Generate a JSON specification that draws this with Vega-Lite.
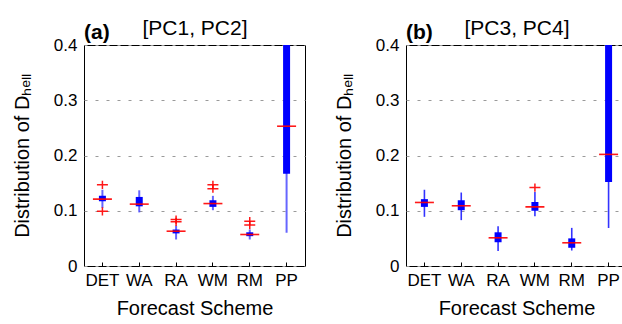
{
  "$schema": "https://vega.github.io/schema/vega-lite/v6.json",
  "background": "white",
  "padding": {"left": 11, "top": 16, "right": 0, "bottom": 0},
  "spacing": 27,
  "config": {
    "font": "Liberation Sans",
    "view": {"stroke": "black", "strokeWidth": 1},
    "axis": {
      "labelFont": "Liberation Sans",
      "labelFontSize": 17,
      "labelColor": "black",
      "titleFont": "Liberation Sans",
      "titleFontSize": 20,
      "titleFontWeight": "normal",
      "titleColor": "black"
    },
    "title": {"font": "Liberation Sans", "color": "black"}
  },
  "datasets": {
    "boxA": [
      {"scheme": "DET", "lo": 0.105, "q1": 0.117, "med": 0.121, "q3": 0.127, "hi": 0.138},
      {"scheme": "WA", "lo": 0.097, "q1": 0.108, "med": 0.112, "q3": 0.125, "hi": 0.137},
      {"scheme": "RA", "lo": 0.048, "q1": 0.059, "med": 0.063, "q3": 0.066, "hi": 0.073},
      {"scheme": "WM", "lo": 0.101, "q1": 0.107, "med": 0.113, "q3": 0.119, "hi": 0.127},
      {"scheme": "RM", "lo": 0.048, "q1": 0.054, "med": 0.057, "q3": 0.061, "hi": 0.066},
      {"scheme": "PP", "lo": 0.060, "q1": 0.167, "med": 0.253, "q3": 0.46, "hi": 0.6}
    ],
    "outA": [
      {"scheme": "DET", "v": 0.147},
      {"scheme": "DET", "v": 0.099},
      {"scheme": "RA", "v": 0.084},
      {"scheme": "RA", "v": 0.080},
      {"scheme": "WM", "v": 0.147},
      {"scheme": "WM", "v": 0.140},
      {"scheme": "RM", "v": 0.081},
      {"scheme": "RM", "v": 0.074}
    ],
    "boxB": [
      {"scheme": "DET", "lo": 0.089, "q1": 0.107, "med": 0.115, "q3": 0.121, "hi": 0.138},
      {"scheme": "WA", "lo": 0.083, "q1": 0.101, "med": 0.109, "q3": 0.119, "hi": 0.133},
      {"scheme": "RA", "lo": 0.027, "q1": 0.043, "med": 0.051, "q3": 0.061, "hi": 0.072},
      {"scheme": "WM", "lo": 0.090, "q1": 0.100, "med": 0.107, "q3": 0.116, "hi": 0.134},
      {"scheme": "RM", "lo": 0.028, "q1": 0.033, "med": 0.042, "q3": 0.050, "hi": 0.069},
      {"scheme": "PP", "lo": 0.069, "q1": 0.152, "med": 0.202, "q3": 0.46, "hi": 0.6}
    ],
    "outB": [
      {"scheme": "WM", "v": 0.142}
    ]
  },
  "hconcat": [
    {
      "width": 221,
      "height": 221,
      "title": {"text": "(a)", "anchor": "start", "frame": "group", "fontSize": 21, "fontWeight": "bold", "offset": -26},
      "resolve": {"axis": {"x": "independent", "y": "independent"}},
      "layer": [
        {
          "data": {"name": "boxA"},
          "mark": {"type": "rule", "color": "#0000ff", "opacity": 0.6, "strokeWidth": 2, "clip": true},
          "encoding": {
            "x": {"field": "scheme", "type": "nominal", "scale": {"type": "band", "domain": ["DET", "WA", "RA", "WM", "RM", "PP"], "paddingInner": 0, "paddingOuter": 0},
                  "axis": {"orient": "bottom", "title": "Forecast Scheme", "labelAngle": 0, "domain": false, "ticks": true, "tickSize": -4, "tickColor": "black", "labelPadding": 10, "titlePadding": 10}},
            "y": {"field": "lo", "type": "quantitative", "scale": {"domain": [0, 0.4], "nice": false},
                  "axis": {"orient": "left", "title": "Distribution of Dₕₑₗₗ", "values": [0, 0.1, 0.2, 0.3, 0.4], "labelExpr": "datum.value == 0 ? '0' : format(datum.value, '.1f')", "domain": false, "ticks": false, "labelPadding": 7, "titlePadding": 21, "grid": true, "gridColor": "#9a9a9a", "gridDash": [3, 8], "gridWidth": 1}},
            "y2": {"field": "hi"}
          }
        },
        {
          "data": {"name": "boxA"},
          "mark": {"type": "bar", "color": "#0000ff", "size": 7, "clip": true},
          "encoding": {
            "x": {"field": "scheme", "type": "nominal", "scale": {"type": "band", "domain": ["DET", "WA", "RA", "WM", "RM", "PP"], "paddingInner": 0, "paddingOuter": 0},
                  "axis": {"orient": "top", "title": "[PC1, PC2]", "titleFontSize": 21, "labels": false, "ticks": false, "domain": false, "titlePadding": 7}},
            "y": {"field": "q1", "type": "quantitative", "scale": {"domain": [0, 0.4], "nice": false}, "axis": null},
            "y2": {"field": "q3"}
          }
        },
        {
          "data": {"name": "boxA"},
          "mark": {"type": "tick", "color": "#ff0000", "size": 19, "thickness": 1.6, "opacity": 0.9, "orient": "horizontal"},
          "encoding": {
            "x": {"field": "scheme", "type": "nominal", "scale": {"type": "band", "domain": ["DET", "WA", "RA", "WM", "RM", "PP"], "paddingInner": 0, "paddingOuter": 0}, "axis": null},
            "y": {"field": "med", "type": "quantitative", "scale": {"domain": [0, 0.4], "nice": false}, "axis": null}
          }
        },
        {
          "data": {"name": "outA"},
          "mark": {"type": "point", "shape": "M-1,0H1M0,-0.75V0.75", "filled": false, "color": "#ff0000", "strokeWidth": 1.5, "size": 121, "opacity": 0.9},
          "encoding": {
            "x": {"field": "scheme", "type": "nominal", "scale": {"type": "band", "domain": ["DET", "WA", "RA", "WM", "RM", "PP"], "paddingInner": 0, "paddingOuter": 0}, "axis": null},
            "y": {"field": "v", "type": "quantitative", "scale": {"domain": [0, 0.4], "nice": false}, "axis": null}
          }
        }
      ]
    },
    {
      "width": 221,
      "height": 221,
      "title": {"text": "(b)", "anchor": "start", "frame": "group", "fontSize": 21, "fontWeight": "bold", "offset": -26},
      "resolve": {"axis": {"x": "independent", "y": "independent"}},
      "layer": [
        {
          "data": {"name": "boxB"},
          "mark": {"type": "rule", "color": "#0000ff", "opacity": 0.8, "strokeWidth": 1.6, "clip": true},
          "encoding": {
            "x": {"field": "scheme", "type": "nominal", "scale": {"type": "band", "domain": ["DET", "WA", "RA", "WM", "RM", "PP"], "paddingInner": 0, "paddingOuter": 0},
                  "axis": {"orient": "bottom", "title": "Forecast Scheme", "labelAngle": 0, "domain": false, "ticks": true, "tickSize": -4, "tickColor": "black", "labelPadding": 10, "titlePadding": 10}},
            "y": {"field": "lo", "type": "quantitative", "scale": {"domain": [0, 0.4], "nice": false},
                  "axis": {"orient": "left", "title": "Distribution of Dₕₑₗₗ", "values": [0, 0.1, 0.2, 0.3, 0.4], "labelExpr": "datum.value == 0 ? '0' : format(datum.value, '.1f')", "domain": false, "ticks": false, "labelPadding": 7, "titlePadding": 21, "grid": true, "gridColor": "#9a9a9a", "gridDash": [3, 8], "gridWidth": 1}},
            "y2": {"field": "hi"}
          }
        },
        {
          "data": {"name": "boxB"},
          "mark": {"type": "bar", "color": "#0000ff", "size": 7, "clip": true},
          "encoding": {
            "x": {"field": "scheme", "type": "nominal", "scale": {"type": "band", "domain": ["DET", "WA", "RA", "WM", "RM", "PP"], "paddingInner": 0, "paddingOuter": 0},
                  "axis": {"orient": "top", "title": "[PC3, PC4]", "titleFontSize": 21, "labels": false, "ticks": false, "domain": false, "titlePadding": 7}},
            "y": {"field": "q1", "type": "quantitative", "scale": {"domain": [0, 0.4], "nice": false}, "axis": null},
            "y2": {"field": "q3"}
          }
        },
        {
          "data": {"name": "boxB"},
          "mark": {"type": "tick", "color": "#ff0000", "size": 19, "thickness": 1.6, "opacity": 0.9, "orient": "horizontal"},
          "encoding": {
            "x": {"field": "scheme", "type": "nominal", "scale": {"type": "band", "domain": ["DET", "WA", "RA", "WM", "RM", "PP"], "paddingInner": 0, "paddingOuter": 0}, "axis": null},
            "y": {"field": "med", "type": "quantitative", "scale": {"domain": [0, 0.4], "nice": false}, "axis": null}
          }
        },
        {
          "data": {"name": "outB"},
          "mark": {"type": "point", "shape": "M-1,0H1M0,-0.75V0.75", "filled": false, "color": "#ff0000", "strokeWidth": 1.5, "size": 121, "opacity": 0.9},
          "encoding": {
            "x": {"field": "scheme", "type": "nominal", "scale": {"type": "band", "domain": ["DET", "WA", "RA", "WM", "RM", "PP"], "paddingInner": 0, "paddingOuter": 0}, "axis": null},
            "y": {"field": "v", "type": "quantitative", "scale": {"domain": [0, 0.4], "nice": false}, "axis": null}
          }
        }
      ]
    }
  ]
}
